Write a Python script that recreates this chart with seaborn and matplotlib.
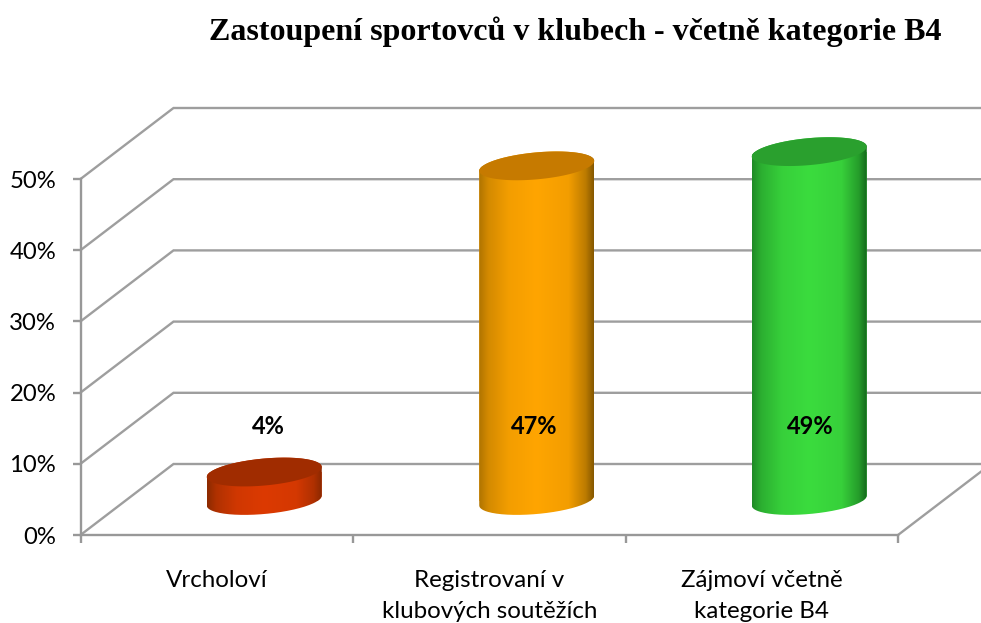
import numpy as np
import pandas as pd
import seaborn as sns
import matplotlib
matplotlib.use("Agg")
import matplotlib.pyplot as plt
from matplotlib.path import Path
from matplotlib.patches import PathPatch
from matplotlib.colors import to_rgb

# ---- data ----
categories = ["Vrcholoví", "Registrovaní v\nklubových soutěžích", "Zájmoví včetně\nkategorie B4"]
values = [4, 47, 49]
value_labels = ["4%", "47%", "49%"]
y_ticks = [0, 10, 20, 30, 40, 50]
y_tick_labels = ["0%", "10%", "20%", "30%", "40%", "50%"]
title = "Zastoupení sportovců v klubech - včetně kategorie B4"

# ---- style ----
mid_colors = ["#dc3a02", "#ffa500", "#3bdc3e"]
left_colors = ["#8c2a00", "#b07400", "#1f8a26"]
right_colors = ["#8a2800", "#855800", "#14691b"]
cap_colors = ["#a02c00", "#c67a00", "#2aa02e"]
GRID = "#9e9e9e"
AXIS = "#989898"

W, H = 981, 623
X0, X1, Y0, Y1 = 80.5, 898.0, 535.0, 179.0   # pixel frame of front plane

sns.set_theme(style="white")
plt.rcParams["font.family"] = ["Lato", "DejaVu Sans"]

fig = plt.figure(figsize=(W / 100, H / 100), dpi=100, facecolor="white")
ax = fig.add_axes([X0 / W, 1 - Y0 / H, (X1 - X0) / W, (Y0 - Y1) / H])

df = pd.DataFrame({"cat": categories, "val": values})
sns.barplot(data=df, x="cat", y="val", hue="cat", palette=mid_colors, legend=False,
            width=115 / ((X1 - X0) / 3), saturation=1, ax=ax, zorder=5)

ax.set_xlim(-0.5, 2.5)
ax.set_ylim(0, 50)
px_x = 3 / (X1 - X0)
px_y = 50 / (Y0 - Y1)

# depth offsets, in data units
back_dx, back_dy = 93 * px_x, 71 * px_y
bar_dx, bar_dy = 47.5 * px_x, 34.5 * px_y

# back wall, side wall and floor lines
for v in y_ticks:
    ax.plot([-0.5, -0.5 + back_dx, 2.5 + back_dx], [v, v + back_dy, v + back_dy],
            color=GRID, lw=1.7, clip_on=False, zorder=1, solid_joinstyle="miter")
ax.plot([2.5, 2.5 + back_dx], [0, back_dy], color=GRID, lw=1.7, clip_on=False, zorder=1)

# cylinders built on the bars seaborn drew
K, B = 5 * px_y, 13.5 * px_y
t_up = np.linspace(np.pi, 0, 80)
t_dn = np.linspace(0, -np.pi, 80)
for i, patch in enumerate(ax.patches):
    a = patch.get_width() / 2
    cx = patch.get_x() + a + bar_dx
    base = bar_dy
    top = patch.get_height() + bar_dy
    patch.set_x(cx - a)
    patch.set_y(base)
    patch.set_edgecolor("none")

    bx = cx + a * np.cos(t_dn)
    by = base + K * np.cos(t_dn) + B * np.sin(t_dn)
    tx = cx + a * np.cos(t_up)
    ty = top + K * np.cos(t_up) + B * np.sin(t_up)
    body = Path(np.vstack([np.c_[bx, by], np.c_[tx, ty], [[bx[0], by[0]]]]))

    stops = np.array([0.0, 0.08, 0.26, 0.50, 0.78, 0.93, 1.0])
    l, m, r = map(lambda c: np.array(to_rgb(c)), (left_colors[i], mid_colors[i], right_colors[i]))
    cols = np.array([l, l * 0.55 + m * 0.45, l * 0.15 + m * 0.85, m, r * 0.1 + m * 0.9, r * 0.55 + m * 0.45, r])
    xs = np.linspace(0, 1, 256)
    grad = np.stack([np.interp(xs, stops, cols[:, c]) for c in range(3)], axis=-1)[None, :, :]
    im = ax.imshow(grad, extent=[cx - a, cx + a, base - 2 * B, top + 2 * B], aspect="auto",
                   zorder=6, interpolation="bilinear")
    im.set_clip_box(fig.bbox)
    im.set_clip_path(body, transform=ax.transData)
    patch.set_clip_box(fig.bbox)
    patch.set_clip_path(body, transform=ax.transData)

    t = np.linspace(0, 2 * np.pi, 160)
    cap = Path(np.c_[cx + a * np.cos(t), top + K * np.cos(t) + B * np.sin(t)])
    ax.add_patch(PathPatch(cap, facecolor=cap_colors[i], edgecolor="none", zorder=7, clip_on=False))

    ax.text(i + bar_dx + [4, -3, 1][i] * px_x, (Y0 - 426.5) * px_y, value_labels[i],
            ha="center", va="center", fontsize=17, fontweight="bold", color="black", zorder=9)

ax.set_xlim(-0.5, 2.5)
ax.set_ylim(0, 50)

# axes
for s in ("top", "right"):
    ax.spines[s].set_visible(False)
for s in ("left", "bottom"):
    ax.spines[s].set_visible(True)
    ax.spines[s].set_color(AXIS)
    ax.spines[s].set_linewidth(1.7)
ax.spines["left"].set_zorder(3)
ax.spines["bottom"].set_zorder(3)

ax.set_xlabel("")
ax.set_ylabel("")
ax.set_yticks(y_ticks, y_tick_labels)
ax.tick_params(axis="y", length=6, width=1.7, color=AXIS, labelsize=17.2, pad=11.5, left=True, labelcolor="black")
ax.set_xticks([-0.5, 0.5, 1.5, 2.5], ["", "", "", ""])
ax.tick_params(axis="x", which="major", length=6, width=1.7, color=AXIS, bottom=True)
ax.set_xticks([0, 1, 2], categories, minor=True)
ax.tick_params(axis="x", which="minor", length=0, pad=25, labelsize=17.4, labelcolor="black", bottom=False)
for lab in ax.get_xminorticklabels():
    lab.set_linespacing(1.62)
    lab.set_ha("center")

fig.text(575.5 / W, 1 - 31.5 / H, title, family="Liberation Serif", fontweight="bold",
         fontsize=23, ha="center", va="center", color="black")

fig.savefig("out.png", dpi=100, facecolor="white")
